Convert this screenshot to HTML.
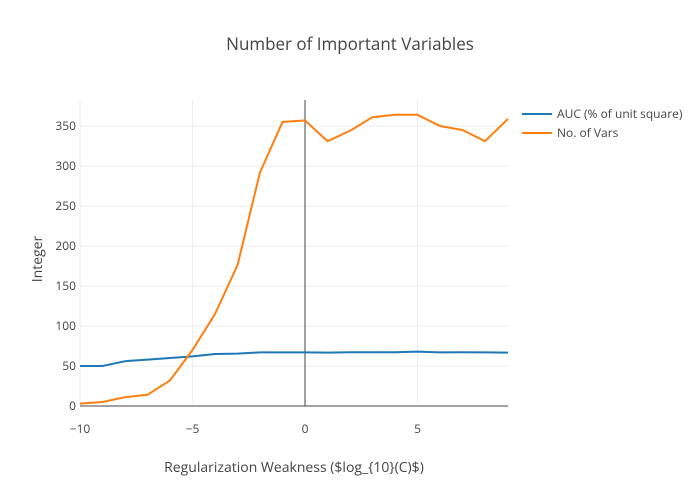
<!DOCTYPE html>
<html><head><style>body{margin:0;background:#fff}svg{display:block;font-family:"Open Sans","Liberation Sans",sans-serif}</style></head>
<body>
<svg width="700" height="500" viewBox="0 0 700 500" xmlns="http://www.w3.org/2000/svg">
<rect width="700" height="500" fill="#fff"/>
<g stroke="#eee" stroke-width="1">
<line x1="80" x2="508" y1="366" y2="366"/><line x1="80" x2="508" y1="326" y2="326"/>
<line x1="80" x2="508" y1="286" y2="286"/><line x1="80" x2="508" y1="246" y2="246"/>
<line x1="80" x2="508" y1="206" y2="206"/><line x1="80" x2="508" y1="166" y2="166"/>
<line x1="80" x2="508" y1="126" y2="126"/>
<line x1="80" x2="80" y1="100" y2="406"/><line x1="192.5" x2="192.5" y1="100" y2="406"/><line x1="417.5" x2="417.5" y1="100" y2="406"/>
</g>
<line x1="305" x2="305" y1="100" y2="406" stroke="#444" stroke-width="1"/>
<line x1="80" x2="508" y1="406" y2="406" stroke="#444" stroke-width="1"/>
<polyline fill="none" stroke="#1f77b4" stroke-width="2" points="80,366 102.5,366 125,361.2 147.5,359.6 170,358 192.5,356.4 215,354 237.5,353.6 260,352.4 282.5,352.4 305,352.4 327.5,352.6 350,352.2 372.5,352.2 395,352.2 417.5,351.6 440,352.4 462.5,352.2 485,352.4 508,352.6"/>
<polyline fill="none" stroke="#ff7f0e" stroke-width="2" points="80,403.6 102.5,402 125,397.2 147.5,394.8 170,380.4 192.5,350 215,314 237.5,265.2 260,172.4 282.5,122 305,120.4 327.5,141.2 350,130.8 372.5,117.2 395,114.8 417.5,114.8 440,126 462.5,130 485,141.2 508,118.8"/>
<g font-size="12" fill="#444" text-anchor="end">
<text x="76" y="410">0</text><text x="76" y="370">50</text><text x="76" y="330">100</text><text x="76" y="290">150</text>
<text x="76" y="250">200</text><text x="76" y="210">250</text><text x="76" y="170">300</text><text x="76" y="130">350</text>
</g>
<g font-size="12" fill="#444" text-anchor="middle">
<text x="80" y="433">−10</text><text x="192.5" y="433">−5</text><text x="305" y="433">0</text><text x="417.5" y="433">5</text>
</g>
<text x="350" y="50" font-size="17" fill="#444" text-anchor="middle">Number of Important Variables</text>
<text x="294" y="472" font-size="14" fill="#444" text-anchor="middle">Regularization Weakness ($log_{10}(C)$)</text>
<text transform="translate(42,259) rotate(-90)" font-size="14" fill="#444" text-anchor="middle">Integer</text>
<line x1="522" x2="552" y1="114" y2="114" stroke="#1f77b4" stroke-width="2"/>
<text x="557" y="118" font-size="12" fill="#444">AUC (% of unit square)</text>
<line x1="522" x2="552" y1="133" y2="133" stroke="#ff7f0e" stroke-width="2"/>
<text x="557" y="137" font-size="12" fill="#444">No. of Vars</text>
</svg>
</body></html>
